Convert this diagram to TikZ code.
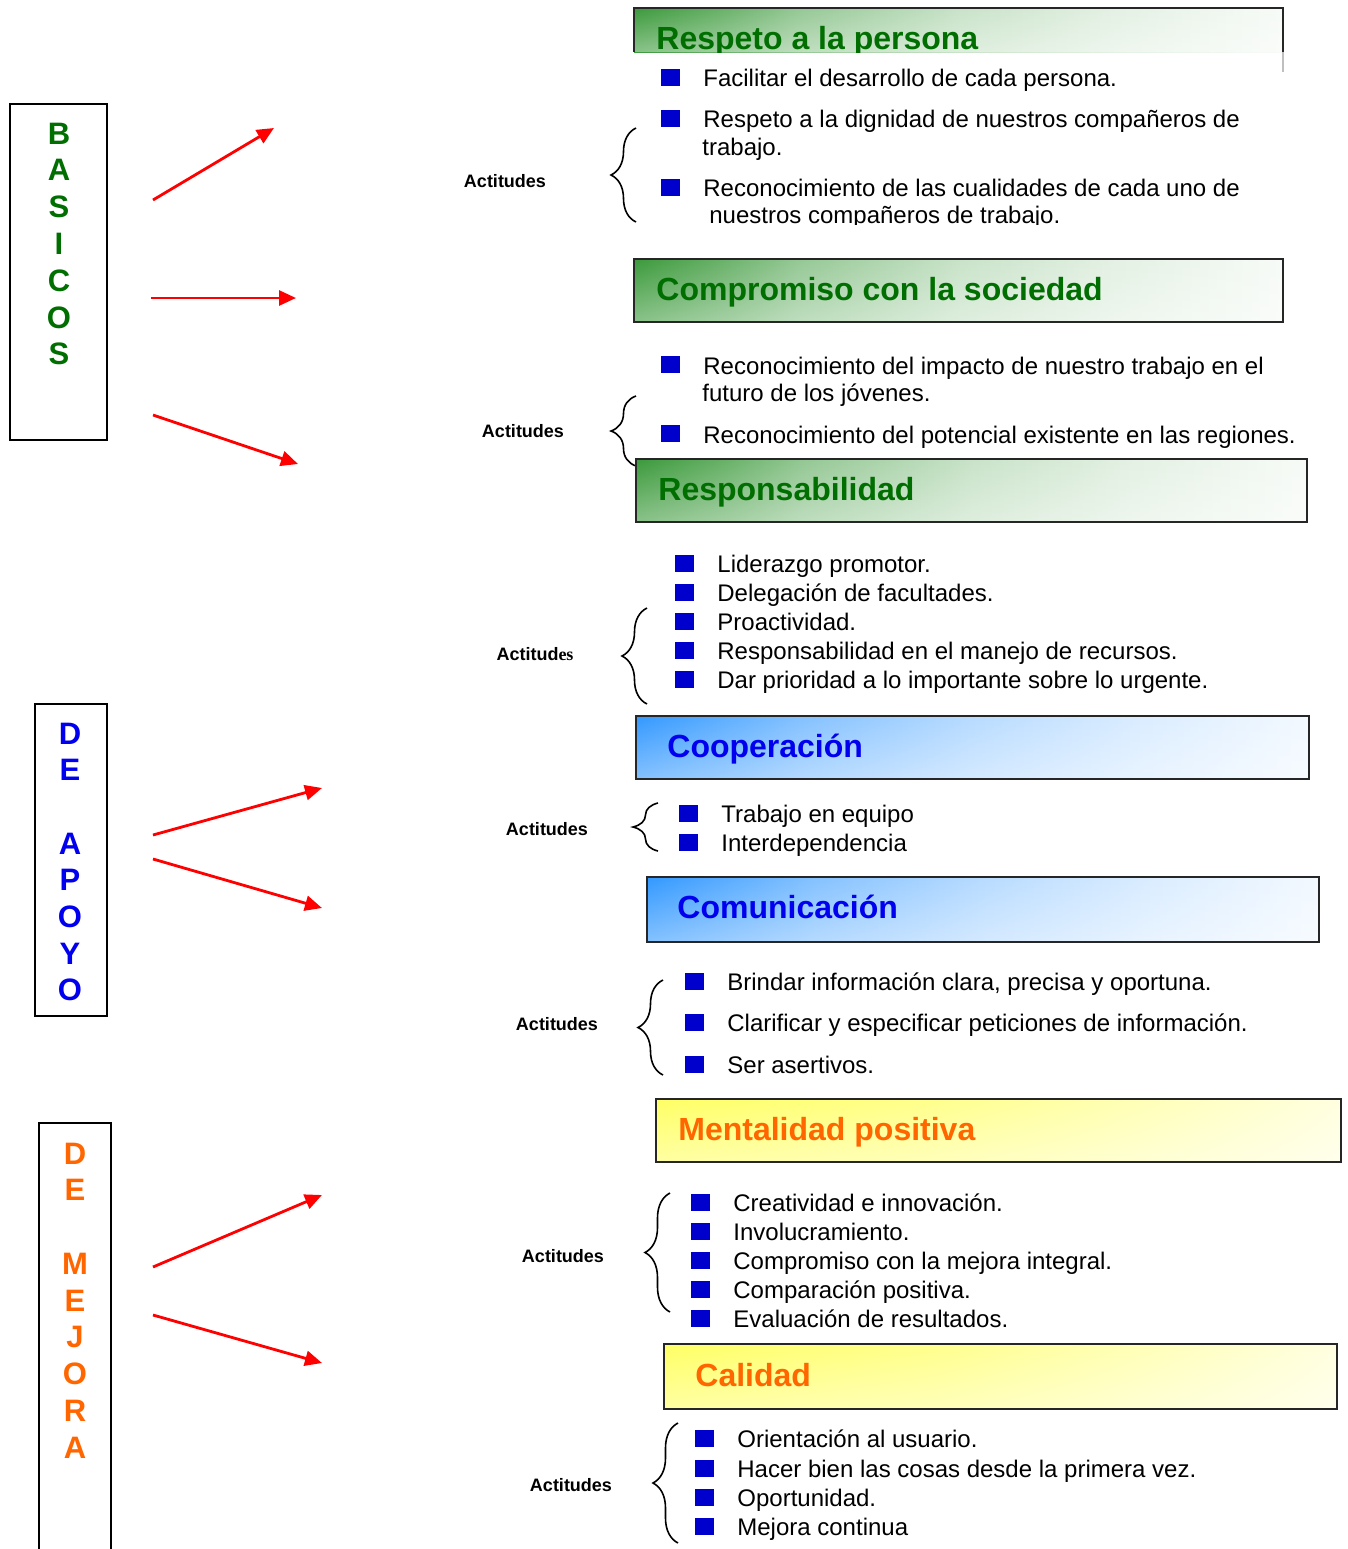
\documentclass[tikz,border=0pt]{standalone}
\usepackage{fontspec}
\setmainfont{Liberation Sans}
\newfontfamily\serifes{Liberation Serif}
\usepackage{tikz}
\usetikzlibrary{arrows.meta}
\usetikzlibrary{decorations.pathreplacing}
\usetikzlibrary{fadings}
\definecolor{valor-green}{HTML}{3C9A3C}
\definecolor{titulo-green}{HTML}{006E00}
\definecolor{valor-blue}{HTML}{3399FF}
\definecolor{titulo-blue}{HTML}{0000EE}
\definecolor{valor-yellow}{HTML}{FFFF66}
\definecolor{titulo-orange}{HTML}{FF6600}
\definecolor{bullet-blue}{HTML}{0000CC}
% header fades
\pgfdeclarehorizontalshading{greenfade}{100bp}{color(0bp)=(valor-green); color(25bp)=(valor-green); color(31bp)=(valor-green!80); color(37.5bp)=(valor-green!55); color(50bp)=(valor-green!28); color(62bp)=(valor-green!14); color(75bp)=(valor-green!4); color(100bp)=(white)}
\pgfdeclarehorizontalshading{bluefade}{100bp}{color(0bp)=(valor-blue); color(25bp)=(valor-blue); color(37.5bp)=(valor-blue!60); color(50bp)=(valor-blue!35); color(62.5bp)=(valor-blue!18); color(75bp)=(valor-blue!6); color(100bp)=(white)}
\pgfdeclarehorizontalshading{yellowfade}{100bp}{color(0bp)=(valor-yellow); color(25bp)=(valor-yellow); color(45bp)=(valor-yellow!75); color(75bp)=(valor-yellow!20); color(100bp)=(white)}
\tikzset{
  lighter/.style={postaction={fill=white, path fading=north, fill opacity=0.4}},
  frame/.style={postaction={draw=black!85, line width=1pt}},
  verde box/.style={shading=greenfade, lighter, frame},
  azul box/.style={shading=bluefade, lighter, frame},
  amarillo box/.style={shading=yellowfade, lighter, frame},
  titulo/.style={anchor=base west, inner sep=0pt, font=\fontsize{16}{19}\selectfont\bfseries},
  verde title/.style={titulo, text=titulo-green},
  azul title/.style={titulo, text=titulo-blue},
  amarillo title/.style={titulo, text=titulo-orange},
}
% header box: style, name, corner, corner, text position, text
\newcommand{\valorhead}[6]{%
\path[#1 box] #3 rectangle #4;
\node[#1 title] (#2) at #5 {#6};
}
% left brace: x, top, bottom
\newcommand{\llave}[3]{%
\draw[llave] (#1,#3) -- (#1,#2);
}

\begin{document}
\begin{tikzpicture}[x=0.5pt, y=-0.5pt,
  flecha/.style={draw=red, line width=1.4pt, -{Triangle[length=8.5pt,width=7.5pt]}},
  grupo/.style={draw=black, line width=1pt},
  letra/.style={anchor=base, inner sep=0pt, font=\fontsize{15.5}{18}\selectfont\bfseries},
  vineta/.style={fill=bullet-blue, minimum width=9.5pt, minimum height=8.5pt, inner sep=0pt},
  item/.style={anchor=base west, inner sep=0pt, font=\fontsize{12}{14}\selectfont},
  actitud/.style={anchor=base, inner sep=0pt, font=\fontsize{9}{11}\selectfont\bfseries},
  llave/.style={decorate, decoration={brace, amplitude=12.5pt}, line width=0.8pt}]
\useasboundingbox (0,0) rectangle (1348,1549);

% group boxes
\draw[grupo] (10,104) rectangle (107,440);
\foreach \l [count=\i] in {B,A,S,I,C,O,S}
  \node[letra, text=titulo-green] (basico-\i) at (59,144+36.8*\i-36.8) {\l};
\draw[grupo] (35,704) rectangle (107,1016);
\foreach \l [count=\i] in {D,E,{},A,P,O,Y,O}
  \node[letra, text=titulo-blue] (apoyo-\i) at (70,744+36.7*\i-36.7) {\l};
\draw[grupo] (39,1549) -- (39,1123) -- (111,1123) -- (111,1549);
\foreach \l [count=\i] in {D,E,{},M,E,J,O,R,A}
  \node[letra, text=titulo-orange] (mejora-\i) at (75,1164+36.75*\i-36.75) {\l};

% arrows
\foreach \xa/\ya/\xb/\yb [count=\i] in {153/200/274/128, 151/298/296/298, 153/415/298/464,
    153/835/322/788, 153/859/322/908, 153/1267/322/1195, 153/1315/322/1363} {
  \coordinate (f-\i) at (\xa,\ya);
  \coordinate (t-\i) at (\xb,\yb);
  \draw[flecha] (f-\i) -- (t-\i);
}

% Respeto a la persona (cut by the list below)
\path[shading=greenfade, lighter] (634,8) rectangle (1283,52);
\draw[black!85, line width=1pt] (634,52) -- (634,8) -- (1283,8) -- (1283,52);
\draw[black!25, line width=1pt] (1283,52) -- (1283,72);
\begin{scope}
\clip (600,0) rectangle (1300,52);
\node[verde title] (respeto) at (656,49) {Respeto a la persona};
\end{scope}
\begin{scope}
\clip (600,52) rectangle (1300,224);
\foreach \y/\t [count=\i] in {86/Facilitar el desarrollo de cada persona.,
    127/Respeto a la dignidad de nuestros compañeros de,
    196/Reconocimiento de las cualidades de cada uno de} {
  \node[vineta] (respeto-v\i) at (670,\y-9) {};
  \node[item] (respeto-\i) at (703,\y) {\t};
}
\node[item] (respeto-2b) at (702,155) {trabajo.};
\node[item] (respeto-3b) at (709,223) {nuestros compañeros de trabajo.};
\end{scope}
\node[actitud] (act-1) at (505,187) {Actitudes};
\llave{636}{128}{222}

% Compromiso con la sociedad
\valorhead{verde}{compromiso}{(634,259)}{(1283,322)}{(656,300)}{Compromiso con la sociedad}
\node[vineta] (compromiso-v1) at (670,364) {};
\node[item] (compromiso-1) at (703,374) {Reconocimiento del impacto de nuestro trabajo en el};
\node[item] (compromiso-1b) at (702,401) {futuro de los jóvenes.};
\node[vineta] (compromiso-v2) at (670,433) {};
\node[item] (compromiso-2) at (703,443) {Reconocimiento del potencial existente en las regiones.};
\node[actitud] (act-2) at (523,437) {Actitudes};
\llave{636}{396}{466}

% Responsabilidad
\valorhead{verde}{responsabilidad}{(636,459)}{(1307,522)}{(658,500)}{Responsabilidad}
\foreach \y/\t [count=\i] in {572/Liderazgo promotor., 601/Delegación de facultades., 630/Proactividad.,
    659/Responsabilidad en el manejo de recursos., 688/Dar prioridad a lo importante sobre lo urgente.} {
  \node[vineta] (resp-v\i) at (684,\y-9) {};
  \node[item] (resp-\i) at (717,\y) {\t};
}
\node[actitud] (act-3) at (535,660) {Actitud{\serifes es}};
\llave{647}{608}{704}

% Cooperacion
\valorhead{azul}{cooperacion}{(636,716)}{(1309,779)}{(667,757)}{Cooperación}
\foreach \y/\t [count=\i] in {822/Trabajo en equipo, 851/Interdependencia} {
  \node[vineta] (coop-v\i) at (688,\y-9) {};
  \node[item] (coop-\i) at (721,\y) {\t};
}
\node[actitud] (act-4) at (547,835) {Actitudes};
\llave{658}{803}{851}

% Comunicacion
\valorhead{azul}{comunicacion}{(647,877)}{(1319,942)}{(677,918)}{Comunicación}
\foreach \y/\t [count=\i] in {990/{Brindar información clara, precisa y oportuna.},
    1031/Clarificar y especificar peticiones de información., 1073/Ser asertivos.} {
  \node[vineta] (com-v\i) at (694,\y-9) {};
  \node[item] (com-\i) at (727,\y) {\t};
}
\node[actitud] (act-5) at (557,1030) {Actitudes};
\llave{663}{980}{1075}

% Mentalidad positiva
\valorhead{amarillo}{mentalidad}{(656,1099)}{(1341,1162)}{(678,1140)}{Mentalidad positiva}
\foreach \y/\t [count=\i] in {1211/Creatividad e innovación., 1240/Involucramiento.,
    1269/Compromiso con la mejora integral., 1298/Comparación positiva., 1327/Evaluación de resultados.} {
  \node[vineta] (ment-v\i) at (700,\y-9) {};
  \node[item] (ment-\i) at (733,\y) {\t};
}
\node[actitud] (act-6) at (563,1262) {Actitudes};
\llave{670}{1193}{1312}

% Calidad
\valorhead{amarillo}{calidad}{(664,1344)}{(1337,1409)}{(695,1386)}{Calidad}
\foreach \y/\t [count=\i] in {1447/Orientación al usuario., 1477/Hacer bien las cosas desde la primera vez.,
    1506/Oportunidad., 1535/Mejora continua} {
  \node[vineta] (cal-v\i) at (704,\y-9) {};
  \node[item] (cal-\i) at (737,\y) {\t};
}
\node[actitud] (act-7) at (571,1491) {Actitudes};
\llave{678}{1423}{1543}
\end{tikzpicture}
\end{document}
